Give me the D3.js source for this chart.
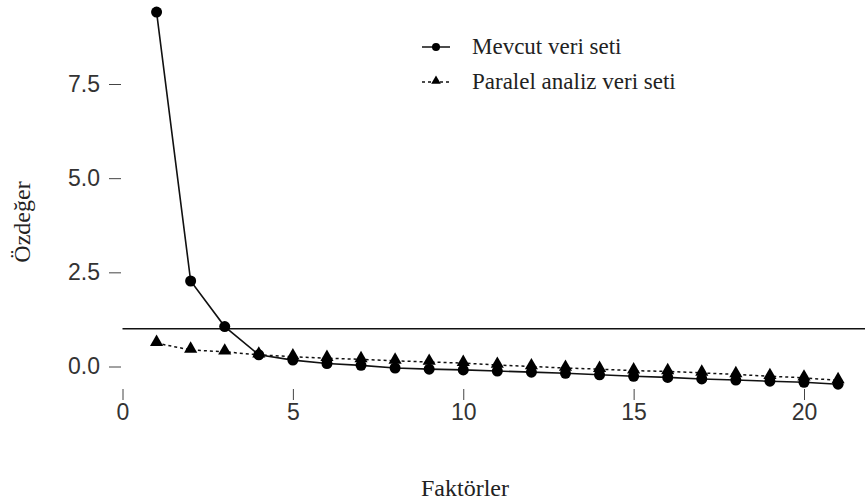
<!DOCTYPE html>
<html>
<head>
<meta charset="utf-8">
<script src="https://cdn.jsdelivr.net/npm/d3@7"></script>
<style>
  body { margin: 0; background: #fff; }
</style>
</head>
<body>
<svg id="chart" width="865" height="501"></svg>
<script>
// Factor numbers
const factors = d3.range(1, 22);

// Eigenvalues of the real data set (Mevcut veri seti)
const mevcut = [9.41, 2.27, 1.06, 0.31, 0.17, 0.08, 0.03, -0.04, -0.07, -0.09,
                -0.12, -0.15, -0.18, -0.22, -0.26, -0.29, -0.33, -0.36, -0.39, -0.42, -0.47];

// Eigenvalues of the parallel analysis data set
const paralel = [0.62, 0.44, 0.39, 0.31, 0.26, 0.22, 0.19, 0.15, 0.12, 0.09,
                 0.04, 0.0, -0.04, -0.07, -0.11, -0.13, -0.17, -0.21, -0.26, -0.30, -0.37];

const xTicks = [0, 5, 10, 15, 20];
const yTicks = [0, 2.5, 5, 7.5];
const cutoff = 1;

const width = 865, height = 501;
const svg = d3.select("#chart");

// Scales
const x = d3.scaleLinear().domain([0, 20]).range([122.5, 804]);
const y = d3.scaleLinear().domain([0, 7.5]).range([366.5, 84]);

const serif = "'Liberation Serif', 'Times New Roman', serif";
const sans = "'Liberation Sans', Arial, sans-serif";

// X axis (no domain line, like R base plot with bty="n")
const xAxis = svg.append("g")
    .attr("transform", "translate(0,389)")
    .call(d3.axisBottom(x).tickValues(xTicks).tickSize(11).tickPadding(4).tickFormat(d3.format("d")));
xAxis.select(".domain").remove();
xAxis.selectAll("line").attr("stroke", "#444");
xAxis.selectAll("text").attr("font-family", sans).attr("font-size", 23).attr("fill", "#333");

// Y axis
const yAxis = svg.append("g")
    .attr("transform", "translate(121,0)")
    .call(d3.axisLeft(y).tickValues(yTicks).tickSize(12).tickPadding(9).tickFormat(d3.format(".1f")));
yAxis.select(".domain").remove();
yAxis.selectAll("line").attr("stroke", "#444");
yAxis.selectAll("text").attr("font-family", sans).attr("font-size", 23).attr("fill", "#333");

// Axis titles
svg.append("text")
    .attr("x", 465).attr("y", 496)
    .attr("text-anchor", "middle")
    .attr("font-family", serif).attr("font-size", 24)
    .attr("fill", "#222")
    .text("Faktörler");

svg.append("text")
    .attr("transform", "translate(30,222) rotate(-90)")
    .attr("text-anchor", "middle")
    .attr("font-family", serif).attr("font-size", 24)
    .attr("fill", "#222")
    .text("Özdeğer");

// Kaiser line at eigenvalue = 1
svg.append("line")
    .attr("x1", x(0)).attr("x2", width)
    .attr("y1", y(cutoff)).attr("y2", y(cutoff))
    .attr("stroke", "#111").attr("stroke-width", 1.5);

const line = d3.line().x((d, i) => x(factors[i])).y(d => y(d));

// Parallel analysis series (dashed, triangles)
svg.append("path")
    .datum(paralel)
    .attr("d", line)
    .attr("fill", "none")
    .attr("stroke", "#111")
    .attr("stroke-width", 1.5)
    .attr("stroke-dasharray", "3,3");

const tri = d3.symbol().type(d3.symbolTriangle).size(75);
svg.append("g")
    .selectAll("path")
    .data(paralel)
    .join("path")
    .attr("d", tri)
    .attr("transform", (d, i) => `translate(${x(factors[i])},${y(d) - 1})`)
    .attr("fill", "#000");

// Real data series (solid, circles)
svg.append("path")
    .datum(mevcut)
    .attr("d", line)
    .attr("fill", "none")
    .attr("stroke", "#111")
    .attr("stroke-width", 1.6);

svg.append("g")
    .selectAll("circle")
    .data(mevcut)
    .join("circle")
    .attr("cx", (d, i) => x(factors[i]))
    .attr("cy", d => y(d))
    .attr("r", 5.5)
    .attr("fill", "#000");

// Legend
const legendItems = [
    { label: "Mevcut veri seti", dash: null, shape: "circle" },
    { label: "Paralel analiz veri seti", dash: "3,3", shape: "triangle" }
];
const legend = svg.append("g").attr("transform", "translate(422,47)");
legendItems.forEach((item, i) => {
    const g = legend.append("g").attr("transform", `translate(0,${i * 35})`);
    g.append("line")
        .attr("x1", 0).attr("x2", 28)
        .attr("stroke", "#111").attr("stroke-width", 1.5)
        .attr("stroke-dasharray", item.dash);
    if (item.shape === "circle") {
        g.append("circle").attr("cx", 14).attr("r", 4).attr("fill", "#000");
    } else {
        g.append("path").attr("d", d3.symbol().type(d3.symbolTriangle).size(40)).attr("transform", "translate(14,-1)").attr("fill", "#000");
    }
    g.append("text")
        .attr("x", 50).attr("y", 7)
        .attr("font-family", serif).attr("font-size", 23)
        .attr("fill", "#222")
        .text(item.label);
});
</script>
</body>
</html>
